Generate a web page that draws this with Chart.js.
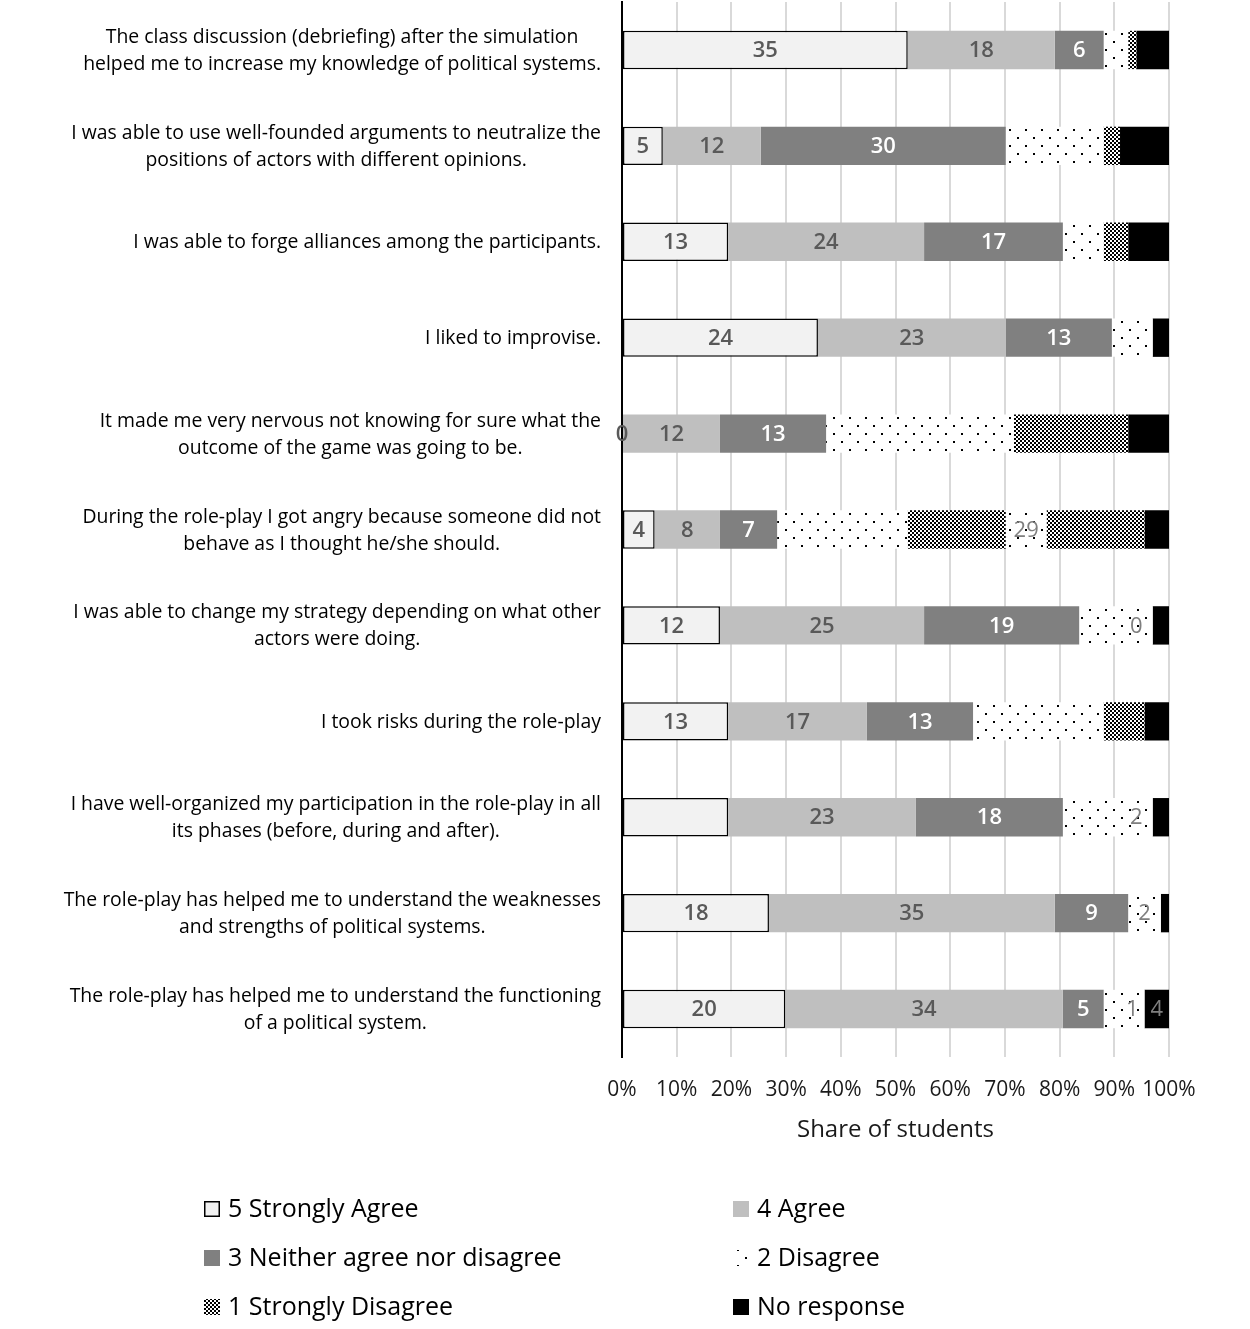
<!DOCTYPE html>
<html>
<head>
<meta charset="utf-8">
<script src="https://cdn.jsdelivr.net/npm/chart.js@4.4.0/dist/chart.umd.min.js"></script>
<style>
html, body { margin: 0; padding: 0; background: #fff; }
#c { display: block; }
</style>
</head>
<body>
<canvas id="c" width="1250" height="1329"></canvas>
<script>
// statements (y categories), one array of lines each
var categories = [
    ["The class discussion (debriefing) after the simulation", "helped me to increase my knowledge of political systems."],
    ["I was able to use well-founded arguments to neutralize the", "positions of actors with different opinions."],
    ["I was able to forge alliances among the participants."],
    ["I liked to improvise."],
    ["It made me very nervous not knowing for sure what the", "outcome of the game was going to be."],
    ["During the role-play I got angry because someone did not", "behave as I thought he/she should."],
    ["I was able to change my strategy depending on what other", "actors were doing."],
    ["I took risks during the role-play"],
    ["I have well-organized my participation in the role-play in all", "its phases (before, during and after)."],
    ["The role-play has helped me to understand the weaknesses", "and strengths of political systems."],
    ["The role-play has helped me to understand the functioning", "of a political system."]
];

// counts of students per answer
var stronglyAgree    = [35, 5, 13, 24, 0, 4, 12, 13, 13, 18, 20];
var agree            = [18, 12, 24, 23, 12, 8, 25, 17, 23, 35, 34];
var neither          = [6, 30, 17, 13, 13, 7, 19, 13, 18, 9, 5];
var disagree         = [3, 12, 5, 5, 23, 16, 5, 16, 7, 0, 2];
var stronglyDisagree = [1, 2, 3, 0, 14, 12, 0, 5, 0, 0, 0];
var extraDotted      = [0, 0, 0, 0, 0, 5, 4, 0, 4, 4, 3];   // extra dotted patches seen in the figure
var extraHatched     = [0, 0, 0, 0, 0, 12, 0, 0, 0, 0, 0];
var noResponse       = [4, 6, 5, 2, 5, 3, 2, 3, 2, 1, 3];

// value labels printed in the bars (null = none)
var stronglyAgreeLabels = ["35", "5", "13", "24", "0", "4", "12", "13", null, "18", "20"];
var agreeLabels = agree.map(String);
var neitherLabels = neither.map(String);
var extraDottedLabels = [null, null, null, null, null, "29", "0", null, "2", "2", "1"];
var noResponseLabels = [null, null, null, null, null, null, null, null, null, null, "4"];

var xTicks = [0, 10, 20, 30, 40, 50, 60, 70, 80, 90, 100];

var FONT = "'Open Sans', 'Noto Sans', sans-serif";

function makePattern(kind) {
    var p = document.createElement('canvas');
    var ctx = p.getContext('2d');
    if (kind == 'dots') {
        p.width = 16; p.height = 16;
        ctx.fillStyle = '#fff';
        ctx.fillRect(0, 0, 16, 16);
        ctx.fillStyle = '#000';
        ctx.fillRect(1, 1, 2, 2);
        ctx.fillRect(9, 9, 2, 2);
    } else {
        p.width = 4; p.height = 4;
        ctx.fillStyle = '#fff';
        ctx.fillRect(0, 0, 4, 4);
        ctx.fillStyle = '#000';
        ctx.fillRect(0, 0, 2, 2);
        ctx.fillRect(2, 2, 2, 2);
    }
    return ctx.createPattern(p, 'repeat');
}

var dots = makePattern('dots');
var checks = makePattern('checks');

var series = [stronglyAgree, agree, neither, disagree, stronglyDisagree, extraDotted, extraHatched, noResponse];
var totals = categories.map(function (c, i) {
    var s = 0;
    series.forEach(function (arr) { s += arr[i]; });
    return s;
});
function pct(arr) {
    return arr.map(function (v, i) { return v / totals[i] * 100; });
}

var datasets = [
    { label: "5 Strongly Agree", data: pct(stronglyAgree), backgroundColor: '#f2f2f2', borderColor: '#000', borderWidth: 1.5, borderSkipped: false, valueLabels: stronglyAgreeLabels, labelColor: '#595959' },
    { label: "4 Agree", data: pct(agree), backgroundColor: '#bfbfbf', valueLabels: agreeLabels, labelColor: '#595959' },
    { label: "3 Neither agree nor disagree", data: pct(neither), backgroundColor: '#808080', valueLabels: neitherLabels, labelColor: '#ffffff' },
    { label: "2 Disagree", data: pct(disagree), backgroundColor: dots },
    { label: "1 Strongly Disagree", data: pct(stronglyDisagree), backgroundColor: checks },
    { label: "extra dotted", data: pct(extraDotted), backgroundColor: dots, valueLabels: extraDottedLabels, labelColor: '#7f7f7f', labelWeight: '400', noLegend: true },
    { label: "extra hatched", data: pct(extraHatched), backgroundColor: checks, noLegend: true },
    { label: "No response", data: pct(noResponse), backgroundColor: '#000000', valueLabels: noResponseLabels, labelColor: '#7f7f7f', labelWeight: '400' }
];

var valueLabelPlugin = {
    id: 'valueLabels',
    afterDatasetsDraw: function (chart) {
        var ctx = chart.ctx;
        ctx.save();
        ctx.textAlign = 'center';
        ctx.textBaseline = 'middle';
        chart.data.datasets.forEach(function (ds, di) {
            if (!ds.valueLabels) return;
            var meta = chart.getDatasetMeta(di);
            meta.data.forEach(function (el, i) {
                var t = ds.valueLabels[i];
                if (t == null) return;
                var p = el.getCenterPoint();
                ctx.font = (ds.labelWeight || '600') + ' 22px ' + FONT;
                ctx.fillStyle = ds.labelColor;
                ctx.fillText(t, p.x, p.y + 1);
            });
        });
        ctx.restore();
    }
};

var categoryLabelPlugin = {
    id: 'categoryLabels',
    afterDraw: function (chart) {
        var ctx = chart.ctx;
        var yScale = chart.scales.y;
        var right = chart.chartArea.left - 21;
        ctx.save();
        ctx.font = '19.4px ' + FONT;
        ctx.fillStyle = '#000';
        ctx.textAlign = 'center';
        ctx.textBaseline = 'middle';
        categories.forEach(function (lines, i) {
            var y = yScale.getPixelForValue(i);
            var w = 0;
            lines.forEach(function (l) { w = Math.max(w, ctx.measureText(l).width); });
            var cx = right - w / 2;
            lines.forEach(function (l, j) {
                ctx.fillText(l, cx, y + 1 + (j - (lines.length - 1) / 2) * 27);
            });
        });
        ctx.restore();
    }
};

var legendPlugin = {
    id: 'gridLegend',
    afterDraw: function (chart) {
        var ctx = chart.ctx;
        var items = chart.data.datasets.filter(function (d) { return !d.noLegend; });
        var colX = [204, 733];
        var rowY = [1209, 1258, 1307];
        ctx.save();
        ctx.font = '25px ' + FONT;
        ctx.textBaseline = 'middle';
        ctx.textAlign = 'left';
        items.forEach(function (d, k) {
            var x = colX[k % 2];
            var y = rowY[Math.floor(k / 2)];
            ctx.fillStyle = d.backgroundColor;
            ctx.fillRect(x, y - 8, 16, 16);
            if (d.borderWidth) {
                ctx.lineWidth = 1.5;
                ctx.strokeStyle = '#000';
                ctx.strokeRect(x + 0.75, y - 7.25, 14.5, 14.5);
            }
            ctx.fillStyle = '#000';
            ctx.fillText(d.label, x + 24, y + 1);
        });
        ctx.restore();
    }
};

new Chart(document.getElementById('c'), {
    type: 'bar',
    data: { labels: categories.map(function (c) { return c.join(' '); }), datasets: datasets },
    options: {
        indexAxis: 'y',
        responsive: false,
        animation: false,
        devicePixelRatio: 1,
        layout: { padding: { top: 2, right: 81, bottom: 180, left: 0 } },
        datasets: { bar: { barPercentage: 0.4, categoryPercentage: 1 } },
        plugins: { legend: { display: false }, tooltip: { enabled: false } },
        scales: {
            x: {
                stacked: true,
                min: 0,
                max: 100,
                afterBuildTicks: function (s) { s.ticks = xTicks.map(function (v) { return { value: v }; }); },
                ticks: {
                    callback: function (v) { return v + '%'; },
                    font: { size: 21, family: FONT },
                    color: '#1a1a1a',
                    padding: 20,
                    autoSkip: false,
                    maxRotation: 0
                },
                grid: { color: '#d9d9d9', lineWidth: 2, drawTicks: false },
                border: { display: false },
                title: {
                    display: true,
                    text: 'Share of students',
                    font: { size: 24, family: FONT },
                    color: '#1a1a1a',
                    padding: { top: -6, bottom: 4 }
                }
            },
            y: {
                stacked: true,
                afterFit: function (s) { s.width = 622; },
                ticks: { display: false },
                grid: { display: false },
                border: { display: true, color: '#000', width: 2 }
            }
        }
    },
    plugins: [valueLabelPlugin, categoryLabelPlugin, legendPlugin]
});
</script>
</body>
</html>
